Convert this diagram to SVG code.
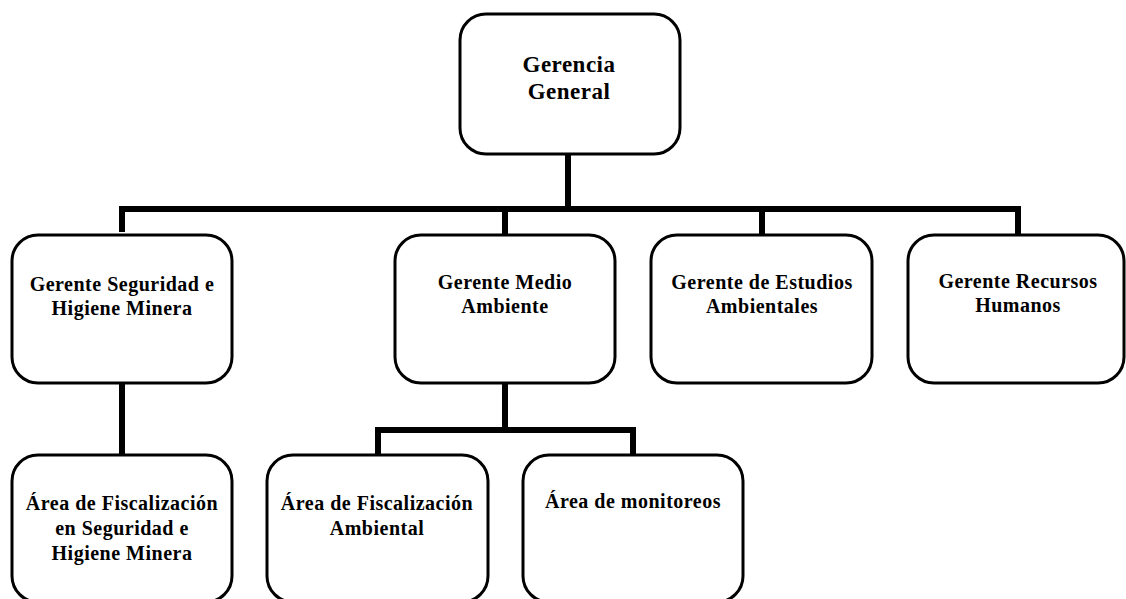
<svg xmlns="http://www.w3.org/2000/svg" width="1126" height="599" viewBox="0 0 1126 599">
<style>
.box{fill:#fff;stroke:#000;stroke-width:3}
.t{font-family:"Liberation Serif","Times New Roman",serif;font-weight:bold;font-size:20px;letter-spacing:0.5px;fill:#000;text-anchor:middle}
.big{font-size:23px}
.c{fill:none;stroke:#000;stroke-width:6}
</style>
<rect width="1126" height="599" fill="#fff"/>
<g id="connectors">
<path class="c" d="M568 153 V209 M122 232 V209 H1018 V236 M505 209 V236 M762 209 V236"/>
<path class="c" d="M122 383 V456"/>
<path class="c" d="M505 383 V430 M378 456 V430 H633 V456"/>
</g>
<g id="gerencia-general">
<rect class="box" x="460" y="14" width="220" height="140" rx="26"/>
<text class="t big" x="569" y="72">Gerencia</text>
<text class="t big" x="569" y="99">General</text>
</g>
<g id="gerente-seguridad">
<rect class="box" x="12" y="235" width="220" height="148" rx="26"/>
<text class="t" x="122" y="291">Gerente Seguridad e</text>
<text class="t" x="122" y="315">Higiene Minera</text>
</g>
<g id="gerente-medio-ambiente">
<rect class="box" x="395" y="235" width="220" height="148" rx="26"/>
<text class="t" x="505" y="289">Gerente Medio</text>
<text class="t" x="505" y="313">Ambiente</text>
</g>
<g id="gerente-estudios">
<rect class="box" x="651" y="235" width="221" height="148" rx="26"/>
<text class="t" x="762" y="289">Gerente de Estudios</text>
<text class="t" x="762" y="313">Ambientales</text>
</g>
<g id="gerente-rrhh">
<rect class="box" x="908" y="235" width="216" height="148" rx="26"/>
<text class="t" x="1018" y="288">Gerente Recursos</text>
<text class="t" x="1018" y="312">Humanos</text>
</g>
<g id="area-fisc-seguridad">
<rect class="box" x="12" y="455" width="220" height="147" rx="26"/>
<text class="t" x="122" y="510">Área de Fiscalización</text>
<text class="t" x="122" y="535">en Seguridad e</text>
<text class="t" x="122" y="560">Higiene Minera</text>
</g>
<g id="area-fisc-ambiental">
<rect class="box" x="267" y="455" width="221" height="147" rx="26"/>
<text class="t" x="377" y="510">Área de Fiscalización</text>
<text class="t" x="377" y="535">Ambiental</text>
</g>
<g id="area-monitoreos">
<rect class="box" x="523" y="455" width="220" height="147" rx="26"/>
<text class="t" x="633" y="508">Área de monitoreos</text>
</g>
</svg>
